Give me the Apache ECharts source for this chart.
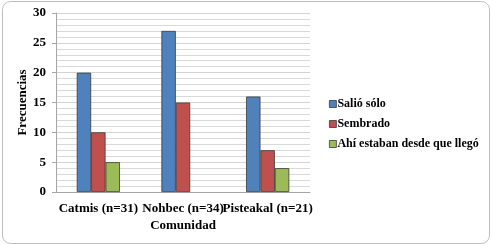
<!DOCTYPE html>
<html>
<head>
<meta charset="utf-8">
<script src="https://cdn.jsdelivr.net/npm/echarts@6/dist/echarts.min.js"></script>
<style>
  html, body { margin: 0; padding: 0; background: #fff; }
  #chart { width: 492px; height: 246px; }
</style>
</head>
<body>
<div id="chart"></div>
<script>
// Communities on the x axis
const categories = ["Catmis (n=31)", "Nohbec (n=34)", "Pisteakal (n=21)"];
// Series values
const salioSolo = [20, 27, 16];
const sembrado = [10, 15, 7];
const ahiEstaban = [5, 0, 4];
const seriesNames = ["Salió sólo", "Sembrado", "Ahí estaban desde que llegó"];
const colors = ["#4F81BD", "#C0504D", "#9BBB59"];

const font = "Liberation Serif";
const chart = echarts.init(document.getElementById("chart"));

function bar(name, data, i) {
  return {
    name: name,
    type: "bar",
    // zero values are not drawn in the original
    data: data.map(v => (v === 0 ? "-" : v)),
    barGap: "0%",
    barCategoryGap: "49%",
    itemStyle: { color: colors[i], borderColor: "#3a3a3a", borderWidth: 0.8 }
  };
}

const label = { fontFamily: font, fontWeight: "bold", fontSize: 13, color: "#000" };

chart.setOption({
  animation: false,
  textStyle: { fontFamily: font },
  graphic: [{
    type: "rect",
    shape: { x: 2.5, y: 1.5, width: 487, height: 242, r: 8 },
    style: { fill: "none", stroke: "#bdbdbd", lineWidth: 1 },
    z: -1
  }],
  grid: { left: 56, top: 13, width: 254, height: 179 },
  legend: {
    orient: "vertical",
    left: 324,
    top: 93,
    itemWidth: 7,
    itemHeight: 7,
    itemGap: 8,
    icon: "rect",
    itemStyle: { borderColor: "#3a3a3a", borderWidth: 0.8 },
    textStyle: Object.assign({}, label, { fontSize: 12, padding: [0, 0, 0, -4] }),
    data: seriesNames
  },
  xAxis: {
    type: "category",
    data: categories,
    name: "Comunidad",
    nameLocation: "middle",
    nameGap: 27,
    nameMoveOverlap: false,
    nameTextStyle: label,
    axisLine: { lineStyle: { color: "#a6a6a6" } },
    axisTick: { show: false },
    axisLabel: Object.assign({ interval: 0, margin: 10 }, label)
  },
  yAxis: {
    type: "value",
    min: 0,
    max: 30,
    interval: 5,
    name: "Frecuencias",
    nameLocation: "middle",
    nameGap: 27,
    nameMoveOverlap: false,
    nameTextStyle: label,
    axisLine: { show: true, lineStyle: { color: "#a6a6a6" } },
    axisTick: { show: true, length: 4, lineStyle: { color: "#a6a6a6" } },
    axisLabel: Object.assign({ margin: 10 }, label),
    splitLine: { lineStyle: { color: "#d4d4d4" } },
    minorTick: { show: false, splitNumber: 5 },
    minorSplitLine: { show: true, lineStyle: { color: "#d9d9d9" } }
  },
  series: [
    bar(seriesNames[0], salioSolo, 0),
    bar(seriesNames[1], sembrado, 1),
    bar(seriesNames[2], ahiEstaban, 2)
  ]
});
</script>
</body>
</html>
